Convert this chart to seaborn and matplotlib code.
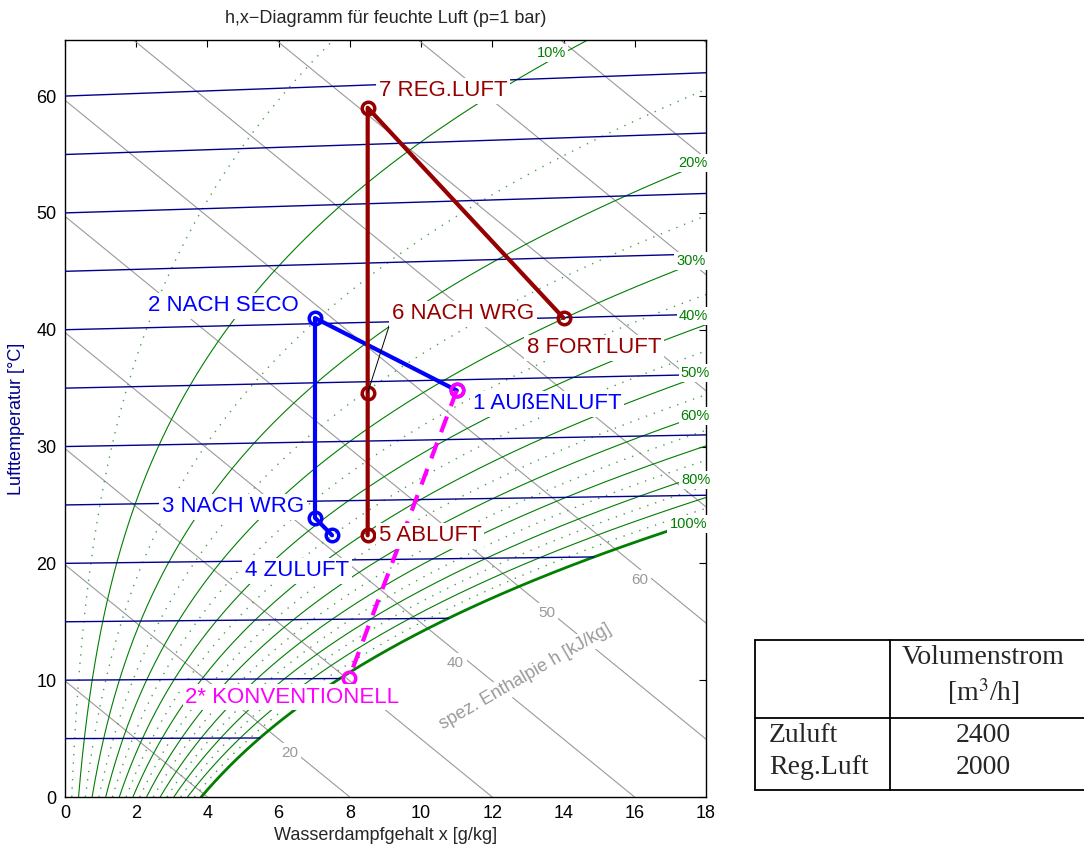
import numpy as np
import pandas as pd
import seaborn as sns
import matplotlib.pyplot as plt

# State points: x = water content [g/kg], y = temperature axis value
supply_labels = ['1 AUßENLUFT', '2 NACH SECO', '3 NACH WRG', '4 ZULUFT']
supply_x = [11.0, 7.02, 7.02, 7.5]
supply_y = [34.8, 41.0, 23.9, 22.4]

regen_labels = ['5 ABLUFT', '6 NACH WRG', '7 REG.LUFT', '8 FORTLUFT']
regen_x = [8.5, 8.5, 8.5, 14.0]
regen_y = [22.4, 34.6, 59.0, 41.0]

conv_label = '2* KONVENTIONELL'
conv_x = [11.0, 7.98]
conv_y = [34.8, 10.2]

# psychrometric grid (h,x diagram at p = 1 bar)
isotherm_t = list(range(5, 65, 5))
enthalpy_h = list(range(10, 120, 10))
rh_solid = [0.1, 0.2, 0.3, 0.4, 0.5, 0.6, 0.7, 0.8, 0.9, 1.0]
rh_dotted = [0.05, 0.15, 0.25, 0.35, 0.45, 0.55, 0.65, 0.75, 0.85, 0.95]
rh_labels = ['10%', '20%', '30%', '40%', '50%', '60%', '80%', '100%']
h_labels = [20, 40, 50, 60]

# table
table_rows = ['Zuluft', 'Reg.Luft']
table_vals = [2400, 2000]

P = 100000.0
BLUE = '#0000ff'
RED = '#960000'
MAGENTA = '#ff00ff'
GREEN = '#007f00'
NAVY = '#00008c'
GREY = '#9a9a9a'


def p_sat(t):
    return 611.2 * np.exp(17.62 * t / (243.12 + t))


def x_of(t, phi):
    pv = phi * p_sat(t)
    return 622.0 * pv / (P - pv)


def y_of(t, x):
    # skewed Mollier ordinate: (h - r0*x)/cp, expressed on the temperature scale
    return t + 1.86 * t * x / 1006.0


sns.set_theme(style='white')
plt.rcParams['font.family'] = ['Liberation Sans', 'DejaVu Sans']
plt.rcParams['mathtext.fontset'] = 'stix'

fig = plt.figure(figsize=(10.84, 8.49), dpi=100)
ax = fig.add_axes([65 / 1084, 1 - 797 / 849, 641 / 1084, 757 / 849])
ax.set_xlim(0, 18)
ax.set_ylim(0, 64.8)

t_fine = np.linspace(0, 75, 800)

# relative humidity curves
for phi in rh_dotted:
    xs = x_of(t_fine, phi)
    ax.plot(xs, y_of(t_fine, xs), color='#4aa04a', lw=1.0, ls=(0, (1, 5)), zorder=2)
for phi in rh_solid:
    xs = x_of(t_fine, phi)
    ax.plot(xs, y_of(t_fine, xs), color=GREEN, lw=2.0 if phi == 1.0 else 0.8, zorder=2)

# isotherms (end at saturation)
for t in isotherm_t:
    xe = min(x_of(t, 1.0), 18.0)
    xx = np.array([0.0, xe])
    ax.plot(xx, y_of(t, xx), color=NAVY, lw=1.0, zorder=3)

# isenthalps
for h in enthalpy_h:
    xx = np.array([0.0, h / 2.501])
    ax.plot(xx, (h - 2.501 * xx) / 1.006, color=GREY, lw=0.8, zorder=1)

h_label_pos = [(6.32, 3.8), (10.96, 11.5), (13.54, 15.75), (16.15, 18.6)]
for h, (xl, yl) in zip(h_labels, h_label_pos):
    ax.text(xl, yl, str(h), color=GREY, fontsize=11, ha='center', va='center', zorder=6,
            bbox=dict(facecolor='white', edgecolor='none', pad=2))
ax.text(12.92, 10.27, 'spez. Enthalpie h [kJ/kg]', color=GREY, fontsize=13,
        rotation=30, ha='center', va='center', zorder=6,
        bbox=dict(facecolor='white', edgecolor='none', pad=2))

# rh labels
rh_label_pos = [(13.65, 63.7), (17.64, 54.3), (17.58, 45.9), (17.64, 41.2),
                (17.7, 36.3), (17.7, 32.6), (17.72, 27.1), (17.5, 23.4)]
for lab, (xl, yl) in zip(rh_labels, rh_label_pos):
    ax.text(xl, yl, lab, color=GREEN, fontsize=10.5, ha='center', va='center',
            zorder=6, clip_on=False,
            bbox=dict(facecolor='white', edgecolor='none', pad=1.5))

# process lines
supply = pd.DataFrame({'x': supply_x, 'y': supply_y})
regen = pd.DataFrame({'x': regen_x, 'y': regen_y})
conv = pd.DataFrame({'x': conv_x, 'y': conv_y})

mk = dict(marker='o', markersize=9, markerfacecolor='none', markeredgewidth=2.5)
sns.lineplot(data=supply, x='x', y='y', sort=False, estimator=None, ax=ax,
             color=BLUE, lw=3, markeredgecolor=BLUE, zorder=7, **mk)
sns.lineplot(data=regen, x='x', y='y', sort=False, estimator=None, ax=ax,
             color=RED, lw=3, markeredgecolor=RED, zorder=7, **mk)
sns.lineplot(data=conv, x='x', y='y', sort=False, estimator=None, ax=ax,
             color=MAGENTA, lw=3, linestyle=(0, (4, 2.7)), markeredgecolor=MAGENTA,
             zorder=8, **mk)

# state labels
lab_kw = dict(fontsize=16, ha='center', va='center', zorder=10,
              bbox=dict(facecolor='white', edgecolor='none', pad=2))
supply_pos = [(13.54, 33.65), (4.44, 42.05), (4.72, 24.85), (6.52, 19.35)]
regen_pos = [(10.25, 22.35), (11.18, 41.35), (10.62, 60.45), (14.86, 38.45)]
for lab, (tx, ty) in zip(supply_labels, supply_pos):
    ax.text(tx, ty, lab, color=BLUE, **lab_kw)
for lab, (tx, ty) in zip(regen_labels, regen_pos):
    ax.text(tx, ty, lab, color=RED, **lab_kw)
ax.text(6.38, 8.55, conv_label, color=MAGENTA, **lab_kw)
ax.plot([regen_x[1], 9.13], [regen_y[1], 40.6], color='black', lw=0.7, zorder=9)

ax.set_xticks(range(0, 20, 2))
ax.set_yticks(range(0, 70, 10))
ax.tick_params(direction='in', top=True, right=True, length=5, width=0.8,
               labelsize=13, colors='black', pad=6)
ax.set_xlabel('Wasserdampfgehalt x [g/kg]', fontsize=13, labelpad=3)
ax.set_ylabel('Lufttemperatur [°C]', fontsize=13, color=NAVY, labelpad=8)
ax.set_title('h,x\u2212Diagramm für feuchte Luft (p=1 bar)', fontsize=13, pad=12)
for s in ax.spines.values():
    s.set_color('black')
    s.set_linewidth(1.0)

# table
tax = fig.add_axes([755 / 1084, 1 - 790 / 849, 329 / 1084, 150 / 849])
tax.set_xlim(0, 329)
tax.set_ylim(0, 150)
tax.axis('off')
for yy in [0, 72, 150]:
    tax.plot([0, 329], [yy, yy], color='black', lw=1.3, clip_on=False)
for xx in [0, 135]:
    tax.plot([xx, xx], [0, 150], color='black', lw=1.3, clip_on=False)
serif = ['Liberation Serif', 'DejaVu Serif']
tax.text(228, 132, 'Volumenstrom', family=serif, fontsize=20, ha='center', va='center')
tax.text(228, 98, '[m$^3$/h]', family=serif, fontsize=20, ha='center', va='center')
for i, (r, v) in enumerate(zip(table_rows, table_vals)):
    yy = 55 - 33 * i
    tax.text(14, yy, r, family=serif, fontsize=20, ha='left', va='center')
    tax.text(228, yy, str(v), family=serif, fontsize=20, ha='center', va='center')

fig.savefig('out.png', dpi=100)
